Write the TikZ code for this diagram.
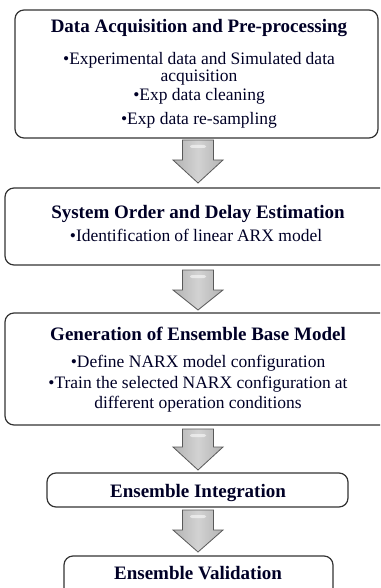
\documentclass[tikz,border=0pt]{standalone}
\usepackage{fontspec}
\setmainfont{Liberation Serif}
\newcommand\blkarrow[4]{%
  \draw[blockarrow] (#1-15.5,#2) -- (#1+15.5,#2) -- (#1+15.5,#3) -- (#1+25,#3) -- (#1,#4) -- (#1-25,#3) -- (#1-15.5,#3) -- cycle;
  \fill[white,opacity=0.55,rounded corners=2pt] (#1-8,#2+5) rectangle (#1+8,#2+8);
}
\newcommand\gap{\hspace{4pt}}
\begin{document}
\begin{tikzpicture}[x=1pt,y=-1pt,
  box/.style={draw=black!80, line width=1.2pt, rounded corners=9pt, inner sep=0},
  ttl/.style={anchor=base, inner sep=0, font=\fontsize{19}{19}\selectfont\bfseries, text=black!85!blue},
  txt/.style={anchor=base, inner sep=0, font=\fontsize{17.5}{17.5}\selectfont, text=black!85!blue},
  blockarrow/.style={draw=black!65, line width=0.8pt, left color=gray!60, right color=gray!60, middle color=gray!35}]
\useasboundingbox (0,0) rectangle (380,588);
\clip (0,0) rectangle (380,588);
% boxes
\node[box, minimum width=363pt, minimum height=128pt] (b1) at (196.5,74) {};
\node[box, minimum width=387pt, minimum height=77pt] (b2) at (198.5,226.5) {};
\node[box, minimum width=387pt, minimum height=112pt] (b3) at (198.5,369) {};
\node[box, minimum width=301pt, minimum height=34pt] (b4) at (197.5,490) {};
\node[box, minimum width=269pt, minimum height=49pt] (b5) at (198.5,580.5) {};
% texts
\node[ttl] (t1) at (199,33) {Data Acquisition and Pre-processing};
\node[txt] (t1a) at (199,65) {•Experimental\gap data and Simulated\gap data};
\node[txt] (t1b) at (199,82) {acquisition};
\node[txt] (t1c) at (199,101) {•Exp data cleaning};
\node[txt] (t1d) at (199,125) {•Exp data re-sampling};
\node[ttl] (t2) at (198,218) {System Order and Delay Estimation};
\node[txt] (t2a) at (196,241) {•Identification\gap of linear\gap ARX model};
\node[ttl] (t3) at (198,340) {Generation of Ensemble Base Model};
\node[txt] (t3a) at (198,367) {•Define NARX model configuration};
\node[txt] (t3b) at (198,388) {•Train the selected NARX configuration\gap at};
\node[txt] (t3c) at (198,408) {different operation\gap conditions};
\node[ttl] (t4) at (198,497) {Ensemble Integration};
\node[ttl] (t5) at (198,579) {Ensemble Validation};
% arrows
\blkarrow{198}{140}{160}{183}
\blkarrow{198}{270}{290}{310}
\blkarrow{198}{429}{447}{470}
\blkarrow{198}{510}{530}{552}
\end{tikzpicture}
\end{document}
